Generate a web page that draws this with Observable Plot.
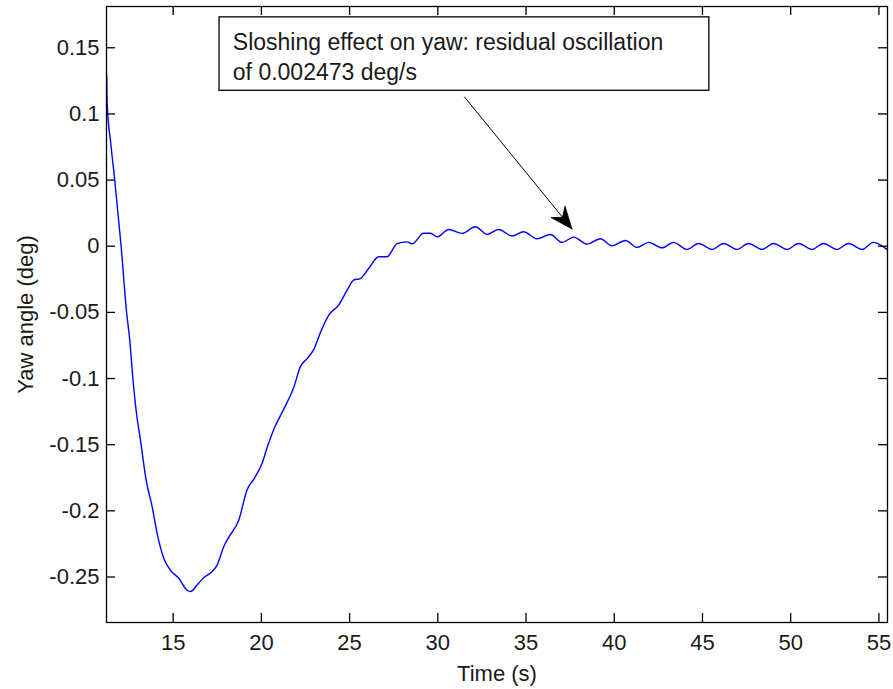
<!DOCTYPE html>
<html>
<head>
<meta charset="utf-8">
<script src="https://cdn.jsdelivr.net/npm/d3@7"></script>
<script src="https://cdn.jsdelivr.net/npm/@observablehq/plot@0.6"></script>
<style>
  html, body { margin: 0; padding: 0; background: white; }
  #chart svg { display: block; }
</style>
</head>
<body>
<div id="chart"></div>
<script>
// ---- Data ----
const timeS = [11.23, 11.26, 11.46, 11.68, 12.05, 12.36, 12.54, 12.71, 12.90, 13.15, 13.47, 13.81, 14.09, 14.47, 14.85, 15.32, 15.79, 15.98, 16.36, 16.73, 17.11, 17.49, 17.87, 18.15, 18.72, 19.19, 19.57, 20.04, 20.33, 20.75, 21.08, 21.46, 21.83, 22.21, 22.59, 22.97, 23.35, 23.82, 24.38, 24.86, 25.23, 25.61, 26.08, 26.65, 27.12, 27.69, 28.26, 28.54, 29.20, 29.58, 29.96, 30.61, 31.37, 32.13, 32.79, 33.45, 34.21, 34.86, 35.62, 36.38, 37.04, 37.70, 38.46, 39.21, 39.87, 40.63, 41.29, 41.95, 42.71, 43.36, 44.12, 44.78, 45.54, 46.20, 46.95, 47.61, 48.37, 49.03, 49.79, 50.45, 51.20, 51.86, 52.62, 53.28, 54.04, 54.69, 55.45];
const yawDeg = [0.130, 0.108, 0.078, 0.051, 0.000, -0.050, -0.071, -0.099, -0.124, -0.147, -0.177, -0.197, -0.217, -0.236, -0.245, -0.251, -0.260, -0.261, -0.256, -0.2505, -0.247, -0.241, -0.227, -0.220, -0.207, -0.184, -0.176, -0.164, -0.152, -0.137, -0.128, -0.118, -0.107, -0.091, -0.085, -0.078, -0.065, -0.052, -0.0445, -0.0332, -0.0256, -0.0244, -0.0168, -0.008, -0.008, 0.002, 0.0033, 0.0018, 0.0098, 0.0098, 0.0071, 0.0127, 0.0097, 0.0147, 0.0089, 0.0127, 0.0077, 0.0109, 0.0056, 0.0089, 0.0029, 0.0069, 0.0016, 0.0056, 0.0003, 0.0043, -0.0009, 0.0029, -0.0012, 0.0029, -0.0024, 0.0021, -0.0024, 0.0021, -0.0024, 0.0021, -0.0024, 0.0021, -0.0024, 0.0021, -0.0024, 0.0021, -0.0024, 0.0021, -0.0024, 0.0029, -0.0024];

const xTicks = [15, 20, 25, 30, 35, 40, 45, 50, 55];
const xTickLabels = ["15", "20", "25", "30", "35", "40", "45", "50", "55"];
const yTicks = [-0.25, -0.2, -0.15, -0.1, -0.05, 0, 0.05, 0.1, 0.15];
const yTickLabels = ["-0.25", "-0.2", "-0.15", "-0.1", "-0.05", "0", "0.05", "0.1", "0.15"];
const xDomain = [11.221, 55.487];
const yDomain = [-0.2844, 0.1812];

const xLabel = "Time (s)";
const yLabel = "Yaw angle (deg)";

// annotation
const noteLines = ["Sloshing effect on yaw: residual oscillation", "of 0.002473 deg/s"];
const noteT = 18.38;
const noteY = [0.1538, 0.1311];
const boxT = [17.63, 45.39];
const boxY = [0.1175, 0.173];
const arrowT = [31.50, 37.63];
const arrowY = [0.113, 0.0127];

// ---- Chart ----
const W = 893, H = 689;
const mL = 106, mR = 6, mT = 6, mB = 67;
const plotW = W - mL - mR, plotH = H - mT - mB;
const tick = 9;
const ink = "#1a1a1a";

const series = timeS.map((t, i) => ({t, v: yawDeg[i]}));

const chart = Plot.plot({
  width: W, height: H,
  marginLeft: mL, marginRight: mR, marginTop: mT, marginBottom: mB,
  x: {domain: xDomain, axis: null},
  y: {domain: yDomain, axis: null},
  style: {fontFamily: "'Liberation Sans', Arial, Helvetica, sans-serif", fontSize: "22px", color: ink, background: "white"},
  marks: [
    Plot.line(series, {x: "t", y: "v", stroke: "#0000ff", strokeWidth: 1.4, curve: "monotone-x"}),
    // inward ticks on all four sides
    Plot.tickX(xTicks, {x: d => d, insetTop: plotH - tick, stroke: "black", strokeWidth: 1.3}),
    Plot.tickX(xTicks, {x: d => d, insetBottom: plotH - tick, stroke: "black", strokeWidth: 1.3}),
    Plot.tickY(yTicks, {y: d => d, insetRight: plotW - tick, stroke: "black", strokeWidth: 1.3}),
    Plot.tickY(yTicks, {y: d => d, insetLeft: plotW - tick, stroke: "black", strokeWidth: 1.3}),
    Plot.frame({stroke: "black", strokeWidth: 1.3}),
    // tick labels
    Plot.text(xTicks, {x: d => d, frameAnchor: "bottom", dy: 20, text: (d, i) => xTickLabels[i], lineAnchor: "middle", textAnchor: "middle", fontSize: 22}),
    Plot.text(yTicks, {y: d => d, frameAnchor: "left", dx: -7, text: (d, i) => yTickLabels[i], lineAnchor: "middle", textAnchor: "end", fontSize: 22}),
    // axis labels
    Plot.text([xLabel], {frameAnchor: "bottom", dy: 51, text: d => d, lineAnchor: "middle", textAnchor: "middle", fontSize: 22}),
    Plot.text([yLabel], {frameAnchor: "left", dx: -81, rotate: -90, text: d => d, lineAnchor: "middle", textAnchor: "middle", fontSize: 22}),
    // annotation
    Plot.rect([0], {x1: () => boxT[0], x2: () => boxT[1], y1: () => boxY[0], y2: () => boxY[1], fill: "white", stroke: "black", strokeWidth: 1.3}),
    Plot.text(noteLines, {x: () => noteT, y: (d, i) => noteY[i], text: d => d, textAnchor: "start", lineAnchor: "middle", fontSize: 23}),
    Plot.link([0], {x1: () => arrowT[0], y1: () => arrowY[0], x2: () => arrowT[1], y2: () => arrowY[1], stroke: "black", strokeWidth: 1})
  ]
});

// filled arrow head, positioned through the chart's scales
const sx = chart.scale("x"), sy = chart.scale("y");
const x0 = sx.apply(arrowT[0]), y0 = sy.apply(arrowY[0]);
const x1 = sx.apply(arrowT[1]), y1 = sy.apply(arrowY[1]);
const len = Math.hypot(x1 - x0, y1 - y0);
const ux = (x1 - x0) / len, uy = (y1 - y0) / len;
const nx = -uy, ny = ux;
const hl = 22, hw = 9, notch = 15;
const bx = x1 - ux * hl, by = y1 - uy * hl;
const pts = [
  [x1, y1],
  [bx + nx * hw, by + ny * hw],
  [x1 - ux * notch, y1 - uy * notch],
  [bx - nx * hw, by - ny * hw]
];
d3.select(chart).append("path")
  .attr("d", "M" + pts.map(p => p.join(",")).join("L") + "Z")
  .attr("fill", "black").attr("stroke", "black").attr("stroke-width", 0.8);

document.getElementById("chart").appendChild(chart);
</script>
</body>
</html>
